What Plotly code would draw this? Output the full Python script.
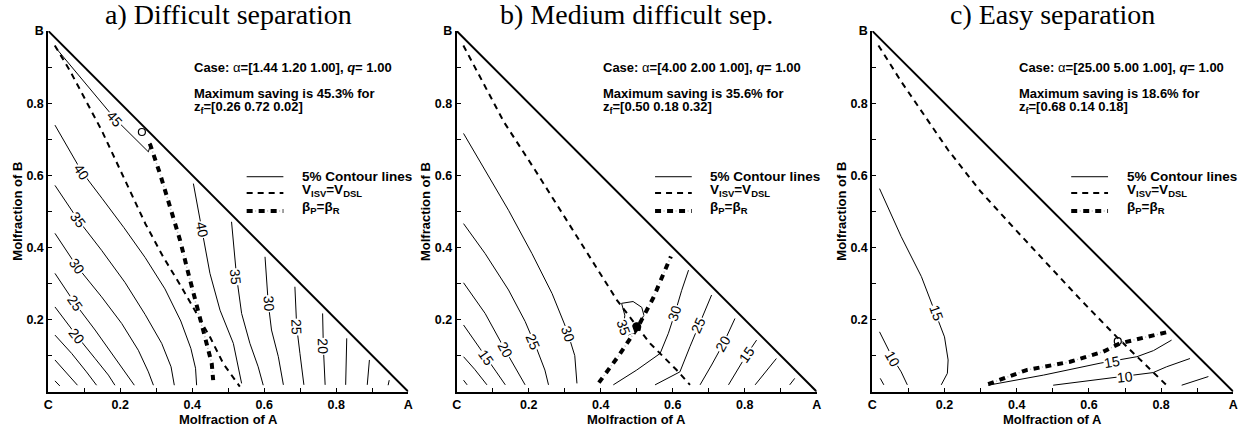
import plotly.graph_objects as go

# ---------------- text / case data ----------------
PANEL_TITLES = ["a) Difficult separation", "b) Medium difficult sep.", "c) Easy separation"]
ALPHAS = [[1.44, 1.20, 1.00], [4.00, 2.00, 1.00], [25.00, 5.00, 1.00]]
Q_VALUES = [1.00, 1.00, 1.00]
MAX_SAVING = [45.3, 35.6, 18.6]
ZF = [[0.26, 0.72, 0.02], [0.50, 0.18, 0.32], [0.68, 0.14, 0.18]]
MARKER_FILLED = [False, True, False]

X_TICKVALS = [0.0, 0.2, 0.4, 0.6, 0.8, 1.0]
X_TICKTEXT = ["C", "0.2", "0.4", "0.6", "0.8", "A"]
Y_TICKVALS = [0.2, 0.4, 0.6, 0.8, 1.0]
Y_TICKTEXT = ["0.2", "0.4", "0.6", "0.8", "B"]
X_TITLE = "Molfraction of A"
Y_TITLE = "Molfraction of B"
LEGEND_TEXT = ["5% Contour lines", "V<sub>ISV</sub>=V<sub>DSL</sub>", "β<sub>P</sub>=β<sub>R</sub>"]

# ---------------- panel a: contours (x = A, y = B) ----------------
A_L5 = [(0.0185, 0.030), (0.032, 0.016)]
A_L10 = [(0.0185, 0.088), (0.051, 0.051), (0.081, 0.018)]
A_L15 = [(0.0185, 0.157), (0.065, 0.106), (0.106, 0.055), (0.134, 0.018)]
A_L20 = [(0.0185, 0.235), (0.079, 0.155), (0.130, 0.092), (0.167, 0.046), (0.185, 0.018)]
A_L25 = [(0.0185, 0.328), (0.074, 0.245), (0.130, 0.171), (0.176, 0.106), (0.213, 0.055), (0.239, 0.018)]
A_L30 = [(0.0185, 0.439), (0.079, 0.348), (0.148, 0.263), (0.204, 0.189), (0.250, 0.115), (0.278, 0.055), (0.292, 0.018)]
A_L35 = [(0.0185, 0.572), (0.083, 0.476), (0.148, 0.392), (0.213, 0.303), (0.269, 0.214), (0.315, 0.134), (0.341, 0.069), (0.350, 0.018)]
A_L40 = [(0.0185, 0.739), (0.093, 0.610), (0.150, 0.535), (0.210, 0.455), (0.269, 0.372), (0.324, 0.285), (0.368, 0.196), (0.396, 0.120), (0.409, 0.065), (0.412, 0.018)]
A_L45 = [(0.0185, 0.956), (0.185, 0.757), (0.278, 0.665), (0.285, 0.690)]
A_R40 = [(0.403, 0.577), (0.419, 0.494), (0.431, 0.429), (0.449, 0.328), (0.477, 0.226), (0.514, 0.134), (0.537, 0.023)]
A_R35 = [(0.509, 0.471), (0.515, 0.400), (0.523, 0.319), (0.537, 0.217), (0.560, 0.134), (0.583, 0.069), (0.597, 0.018)]
A_R30 = [(0.602, 0.374), (0.611, 0.245), (0.620, 0.171), (0.639, 0.097), (0.653, 0.019)]
A_R25 = [(0.685, 0.291), (0.690, 0.180), (0.699, 0.106), (0.710, 0.019)]
A_R20 = [(0.762, 0.217), (0.764, 0.125), (0.769, 0.019)]
A_R15 = [(0.829, 0.148), (0.826, 0.019)]
A_R10 = [(0.892, 0.088), (0.886, 0.019)]
A_R5 = [(0.947, 0.032), (0.944, 0.018)]
A_DASHED = [(0.018, 0.960), (0.060, 0.890), (0.148, 0.725), (0.227, 0.559), (0.270, 0.465), (0.319, 0.374),
            (0.370, 0.290), (0.417, 0.208), (0.450, 0.150), (0.486, 0.078), (0.532, 0.014)]
A_BETA = [(0.282, 0.688), (0.310, 0.605), (0.338, 0.513), (0.366, 0.420), (0.389, 0.328), (0.412, 0.235),
          (0.435, 0.152), (0.454, 0.078), (0.458, 0.032)]

# ---------------- panel b ----------------
B_L5 = [(0.019, 0.032), (0.029, 0.019)]
B_L10 = [(0.019, 0.097), (0.050, 0.062), (0.084, 0.019)]
B_L15 = [(0.019, 0.185), (0.050, 0.140), (0.080, 0.095), (0.110, 0.055), (0.135, 0.019)]
B_L20 = [(0.019, 0.302), (0.079, 0.217), (0.135, 0.115), (0.172, 0.051), (0.190, 0.019)]
B_L25 = [(0.019, 0.466), (0.079, 0.383), (0.144, 0.282), (0.190, 0.195), (0.222, 0.120), (0.245, 0.060), (0.255, 0.019)]
B_L30 = [(0.019, 0.716), (0.079, 0.614), (0.144, 0.503), (0.209, 0.383), (0.265, 0.272), (0.306, 0.171), (0.328, 0.100), (0.334, 0.023)]
B_L35 = [(0.458, 0.245), (0.490, 0.250), (0.514, 0.234), (0.520, 0.212), (0.508, 0.190), (0.495, 0.166),
         (0.477, 0.157), (0.464, 0.180), (0.467, 0.212), (0.458, 0.245)]
B_R30 = [(0.644, 0.337), (0.625, 0.281), (0.606, 0.217), (0.588, 0.162), (0.565, 0.106), (0.500, 0.060), (0.435, 0.019)]
B_R25 = [(0.708, 0.268), (0.690, 0.225), (0.671, 0.185), (0.648, 0.125), (0.620, 0.055), (0.551, 0.019)]
B_R20 = [(0.773, 0.203), (0.741, 0.134), (0.708, 0.074), (0.676, 0.019)]
B_R15 = [(0.833, 0.143), (0.805, 0.102), (0.755, 0.019)]
B_R10 = [(0.888, 0.092), (0.829, 0.019)]
B_R5 = [(0.939, 0.037), (0.925, 0.019)]
B_DASHED = [(0.0185, 0.960), (0.131, 0.748), (0.218, 0.614), (0.293, 0.494), (0.376, 0.365), (0.445, 0.254),
            (0.490, 0.195), (0.537, 0.134), (0.611, 0.060), (0.648, 0.019)]
B_BETA = [(0.395, 0.025), (0.450, 0.100), (0.502, 0.177), (0.546, 0.260), (0.595, 0.375)]

# ---------------- panel c ----------------
C_L5 = [(0.022, 0.037), (0.032, 0.019)]
C_L10 = [(0.020, 0.166), (0.057, 0.092), (0.080, 0.055), (0.097, 0.019)]
C_L15 = [(0.020, 0.563), (0.080, 0.430), (0.136, 0.319), (0.175, 0.220), (0.200, 0.152), (0.210, 0.088), (0.208, 0.051), (0.191, 0.019)]
C_R15 = [(0.321, 0.018), (0.474, 0.046), (0.631, 0.079), (0.733, 0.097), (0.779, 0.114), (0.829, 0.143)]
C_R10 = [(0.501, 0.018), (0.700, 0.042), (0.778, 0.053), (0.815, 0.069), (0.880, 0.092)]
C_R5 = [(0.857, 0.018), (0.931, 0.042)]
C_DASHED = [(0.017, 0.960), (0.080, 0.860), (0.210, 0.670), (0.300, 0.555), (0.394, 0.452), (0.474, 0.365),
            (0.577, 0.255), (0.677, 0.152), (0.750, 0.080), (0.815, 0.018)]
C_BETA = [(0.321, 0.021), (0.427, 0.060), (0.548, 0.083), (0.640, 0.111), (0.686, 0.134), (0.741, 0.148),
          (0.806, 0.162), (0.820, 0.166)]

A_CONTOURS = [A_L5, A_L10, A_L15, A_L20, A_L25, A_L30, A_L35, A_L40, A_L45,
              A_R40, A_R35, A_R30, A_R25, A_R20, A_R15, A_R10, A_R5]
B_CONTOURS = [B_L5, B_L10, B_L15, B_L20, B_L25, B_L30, B_L35, B_R30, B_R25, B_R20, B_R15, B_R10, B_R5]
C_CONTOURS = [C_L5, C_L10, C_L15, C_R15, C_R10, C_R5]

# contour label placement: (level, x, y, angle)
A_LABELS = [(45, 0.185, 0.757, 48), (40, 0.093, 0.610, 56), (35, 0.083, 0.476, 53), (30, 0.079, 0.348, 54),
            (25, 0.074, 0.245, 55), (20, 0.079, 0.155, 52), (40, 0.426, 0.450, 80), (35, 0.521, 0.319, 84),
            (30, 0.612, 0.245, 86), (25, 0.690, 0.180, 88), (20, 0.764, 0.125, 89)]
B_LABELS = [(15, 0.080, 0.095, 55), (20, 0.135, 0.115, 61), (25, 0.212, 0.138, 67), (30, 0.309, 0.160, 72),
            (35, 0.465, 0.178, 70), (30, 0.606, 0.217, -72), (25, 0.671, 0.185, -66), (20, 0.741, 0.134, -60),
            (15, 0.805, 0.102, -55)]
C_LABELS = [(15, 0.177, 0.217, 70), (10, 0.057, 0.092, 60), (15, 0.663, 0.083, -10), (10, 0.700, 0.042, -6)]

PANELS = [
    (A_CONTOURS, A_DASHED, A_BETA, A_LABELS),
    (B_CONTOURS, B_DASHED, B_BETA, B_LABELS),
    (C_CONTOURS, C_DASHED, C_BETA, C_LABELS),
]

# ---------------- layout constants ----------------
W, H = 1242, 428
X_DOMAINS = [(48.3 / W, 408.3 / W), (456.7 / W, 816.7 / W), (872.3 / W, 1233.3 / W)]
Y_DOMAIN = (1 - 391.7 / H, 1 - 31.0 / H)
SANS = "Liberation Sans, Arial, sans-serif"
SERIF = "Liberation Serif, Times New Roman, serif"

fig = go.Figure()
annotations = []
shapes = []


def xy(points):
    return [p[0] for p in points], [p[1] for p in points]


MINOR = dict(dtick=0.1, tick0=0, ticks="inside", ticklen=4, tickwidth=1, tickcolor="black", showgrid=False)

for i, (contours, dashed, beta, labels) in enumerate(PANELS):
    xa = "x" if i == 0 else f"x{i + 1}"
    ya = "y" if i == 0 else f"y{i + 1}"
    xd = f"{xa} domain"
    yd = f"{ya} domain"
    common = dict(xaxis=xa, yaxis=ya, showlegend=False, hoverinfo="skip")

    for c in contours:
        cx, cy = xy(c)
        fig.add_trace(go.Scatter(x=cx, y=cy, mode="lines", line=dict(color="black", width=1), **common))

    dx, dy = xy(dashed)
    fig.add_trace(go.Scatter(x=dx, y=dy, mode="lines",
                             line=dict(color="black", width=2, dash="6px,5px"), **common))
    bx, by = xy(beta)
    fig.add_trace(go.Scatter(x=bx, y=by, mode="lines",
                             line=dict(color="#b8b8b8", width=1.5, dash="0px,8.5px,1px,2.5px"), **common))
    fig.add_trace(go.Scatter(x=bx, y=by, mode="lines",
                             line=dict(color="black", width=4, dash="6px,6px"), **common))

    # triangle hypotenuse (B -> A)
    fig.add_trace(go.Scatter(x=[0, 1], y=[1, 0], mode="lines", line=dict(color="black", width=2), **common))

    # optimum marker
    zf = ZF[i]
    fig.add_trace(go.Scatter(
        x=[zf[0]], y=[zf[1]], mode="markers",
        marker=dict(symbol="circle" if MARKER_FILLED[i] else "circle-open", size=8 if MARKER_FILLED[i] else 7,
                    color="black", line=dict(color="black", width=1.2)),
        cliponaxis=False, **common))

    # axes
    fig.update_layout({
        ("xaxis" if i == 0 else f"xaxis{i + 1}"): dict(
            domain=list(X_DOMAINS[i]), range=[0, 1], anchor=ya, showgrid=False, zeroline=False,
            automargin=False,
            showline=True, linecolor="black", linewidth=2, ticks="inside", ticklen=4, tickwidth=1,
            tickcolor="black", tickvals=X_TICKVALS, ticktext=X_TICKTEXT, minor=MINOR,
            tickfont=dict(family=SANS, size=12.5, color="black", weight="bold"), fixedrange=True),
        ("yaxis" if i == 0 else f"yaxis{i + 1}"): dict(
            domain=list(Y_DOMAIN), range=[0, 1], anchor=xa, showgrid=False, zeroline=False,
            automargin=False,
            showline=True, linecolor="black", linewidth=2, ticks="inside", ticklen=4, tickwidth=1,
            tickcolor="black", tickvals=Y_TICKVALS, ticktext=Y_TICKTEXT, minor=MINOR,
            tickfont=dict(family=SANS, size=12.5, color="black", weight="bold"), fixedrange=True),
    })

    # title
    annotations.append(dict(text=PANEL_TITLES[i], xref=xd, yref="paper", x=0.5, y=1 - 15 / H,
                            xanchor="center", yanchor="middle", showarrow=False,
                            font=dict(family=SERIF, size=28, color="black")))
    # axis titles
    annotations.append(dict(text=X_TITLE, xref=xd, yref=yd, x=0.5, y=0, yshift=-28,
                            xanchor="center", yanchor="middle", showarrow=False,
                            font=dict(family=SANS, size=13, color="black", weight="bold")))
    annotations.append(dict(text=Y_TITLE, xref=xd, yref=yd, x=0, y=0.5, xshift=-31, textangle=-90,
                            xanchor="center", yanchor="middle", showarrow=False,
                            font=dict(family=SANS, size=13, color="black", weight="bold")))

    # case text
    alpha_txt = " ".join(f"{a:.2f}" for a in ALPHAS[i])
    case_txt = f"<b>Case: </b>α<b>=[{alpha_txt}], <i>q</i>= {Q_VALUES[i]:.2f}</b>"
    sav_txt = f"<b>Maximum saving is {MAX_SAVING[i]:.1f}% for</b>"
    zf_txt = "<b>z<sub>f</sub>=[" + " ".join(f"{v:.2f}" for v in ZF[i]) + "]</b>"
    tfont = dict(family=SANS, size=13, color="black")
    for txt, yy in [(case_txt, 0.900), (sav_txt, 0.826), (zf_txt, 0.788)]:
        annotations.append(dict(text=txt, xref=xd, yref=yd, x=0.40, y=yy, xanchor="left",
                                yanchor="middle", showarrow=False, font=tfont))

    # legend
    leg_y = [0.596, 0.551, 0.501]
    shapes.append(dict(type="line", xref=xd, yref=yd, x0=0.551, x1=0.653, y0=leg_y[0], y1=leg_y[0],
                       line=dict(color="black", width=1)))
    shapes.append(dict(type="line", xref=xd, yref=yd, x0=0.551, x1=0.653, y0=leg_y[1], y1=leg_y[1],
                       line=dict(color="black", width=2, dash="6px,5px")))
    shapes.append(dict(type="line", xref=xd, yref=yd, x0=0.551, x1=0.653, y0=leg_y[2], y1=leg_y[2],
                       line=dict(color="#b8b8b8", width=1.5, dash="0px,8.5px,1px,2.5px")))
    shapes.append(dict(type="line", xref=xd, yref=yd, x0=0.551, x1=0.653, y0=leg_y[2], y1=leg_y[2],
                       line=dict(color="black", width=4, dash="6px,6px")))
    lfont = dict(family=SANS, size=13.5, color="black")
    for txt, yy, sh in zip(LEGEND_TEXT, leg_y, [0, 2, 3]):
        annotations.append(dict(text=f"<b>{txt}</b>", xref=xd, yref=yd, x=0.699, y=yy, yshift=sh,
                                xanchor="left", yanchor="middle", showarrow=False, font=lfont))

    # contour labels
    for lev, lx, ly, ang in labels:
        annotations.append(dict(text=str(lev), xref=xa, yref=ya, x=lx, y=ly, textangle=ang,
                                xanchor="center", yanchor="middle", showarrow=False,
                                bgcolor="white", borderpad=0,
                                font=dict(family=SANS, size=14, color="black")))

fig.update_layout(width=W, height=H, margin=dict(l=0, r=0, t=0, b=0), paper_bgcolor="white",
                  plot_bgcolor="white", annotations=annotations, shapes=shapes, showlegend=False)

fig.write_html("out.html", config={"displayModeBar": False},
               post_script="document.body.style.margin='0px';")
